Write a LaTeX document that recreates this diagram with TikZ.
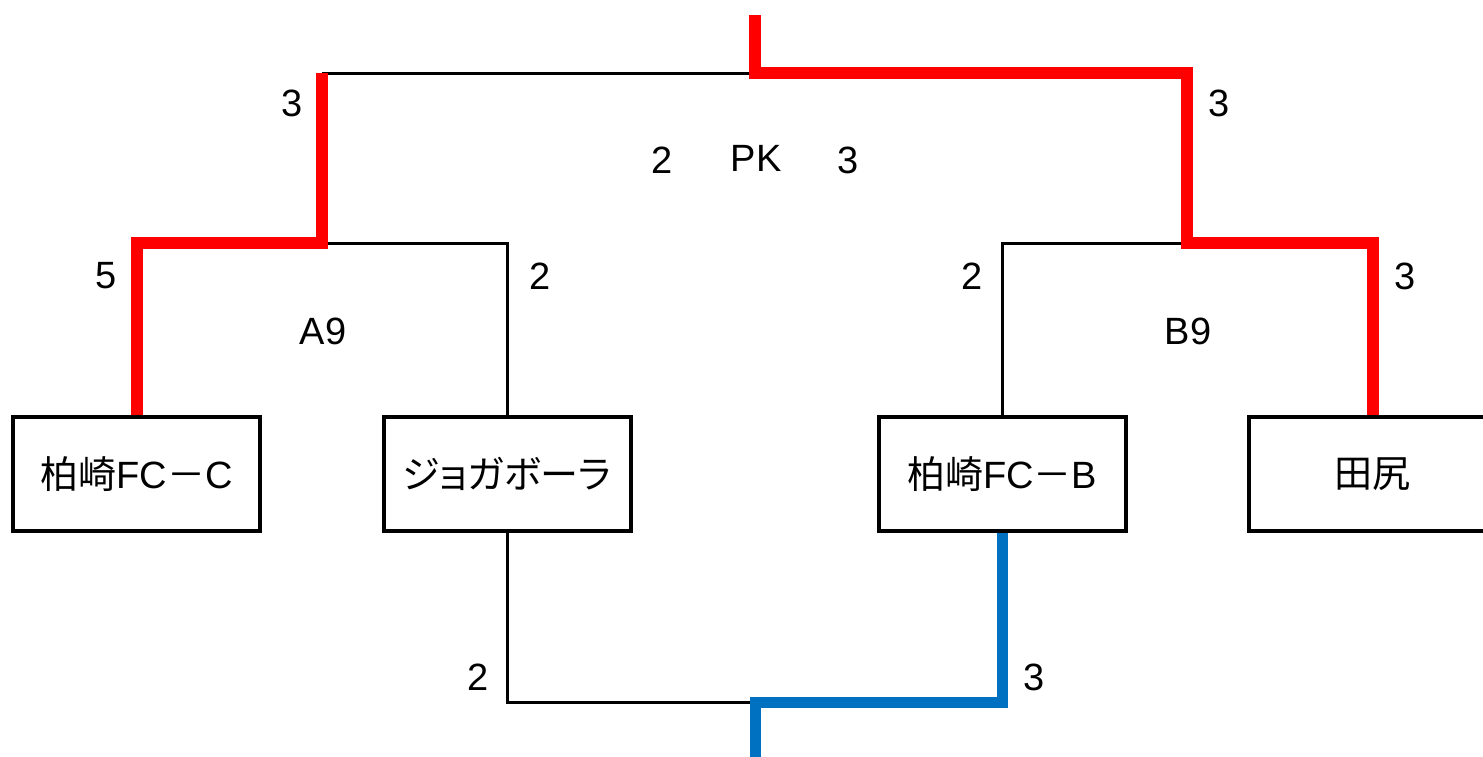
\documentclass[tikz,border=0pt]{standalone}
\usepackage{fontspec}
\setmainfont{Liberation Sans}
\newfontfamily\cjk{Noto Sans CJK JP}
\newfontfamily\cjkp[RawFeature=+palt]{Noto Sans CJK JP}
\usepackage{tikz}
\usetikzlibrary{shapes,arrows,calc,positioning}
\definecolor{bluewin}{RGB}{0,112,192}
\tikzset{team/.style={draw,rectangle,line width=2pt,minimum width=123.5pt,minimum height=57pt,inner sep=0pt}}
\tikzstyle{lose}=[draw,black,line width=1.5pt]
\tikzstyle{win}=[draw,red,line width=6pt]
\tikzstyle{third}=[draw,bluewin,line width=5.5pt]

\begin{document}
\begin{tikzpicture}[x=0.5pt,y=-0.5pt,font=\fontsize{19}{23}\selectfont,line join=miter]
\useasboundingbox (0,0) rectangle (1483,756);
\node[team] (T1) at (136.5,474){{\cjk 柏崎}FC{\cjk －}C};
\node[team] (T2) at (507,474){{\cjkp ジョガボーラ}};
\node[team] (T3) at (1002,474){{\cjk 柏崎}FC{\cjk －}B};
\node[team] (T4) at (1372.5,474){{\cjk 田尻}};
\coordinate (JA) at (322,243);
\coordinate (JB) at (1187,243);
\coordinate (JF) at (755,73);
\coordinate (Top) at (755,15);
\coordinate (J3) at (755,702);
\coordinate (Bot) at (755,760);
% scores
\node (sA) at (292,103){3};
\node (sB) at (1219,103){3};
\node (pk1) at (662,160){2};
\node (pk) at (756,158){PK};
\node (pk2) at (848,160){3};
\node (s1) at (106,276){5};
\node (s2) at (540,276){2};
\node (gA) at (323,331){A9};
\node (s3) at (972,276){2};
\node (s4) at (1405,276){3};
\node (gB) at (1188,331){B9};
\node (t2) at (478,677){2};
\node (t3) at (1034,677){3};

\path[lose] (T2.north) |- (JA)
	(T3.north) |- (JB)
	(JA |- JF) -- (JF)
	(T2.south) |- (J3);
\path[win] (T1.north) |- (JA) -- (JA |- JF)
	(T4.north) |- (JB) -- (JB |- JF) -- (JF) -- (Top);
\path[third] (T3.south) |- (J3) -- (Bot);
\end{tikzpicture}
\end{document}
